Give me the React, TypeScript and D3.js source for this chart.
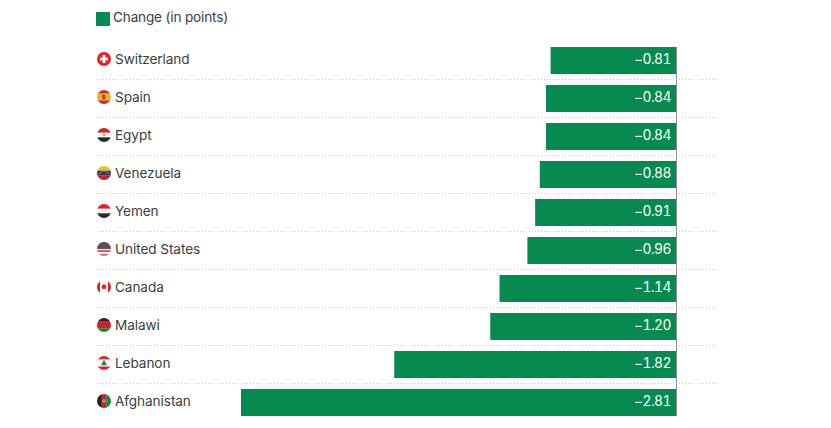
import React from "react";
import * as d3 from "d3";

const countries = ["Switzerland", "Spain", "Egypt", "Venezuela", "Yemen", "United States", "Canada", "Malawi", "Lebanon", "Afghanistan"];
const changes = [-0.81, -0.84, -0.84, -0.88, -0.91, -0.96, -1.14, -1.2, -1.82, -2.81];
const labels = ["−0.81", "−0.84", "−0.84", "−0.88", "−0.91", "−0.96", "−1.14", "−1.20", "−1.82", "−2.81"];
const legendLabel = "Change (in points)";

const GREEN = "#078a4f";
const FONT = "Inter, 'Noto Sans', sans-serif";

const x = d3.scaleLinear().domain([-2.81, 0]).range([241, 676]);
const y = d3.scaleBand<string>().domain(countries).range([41.5, 421.5]).paddingInner(11 / 38).paddingOuter(5.5 / 38);

function stripes(cols: string[], horizontal = true) {
  const n = cols.length;
  return cols.map((c, i) =>
    horizontal ? (
      <rect key={i} x={-7.5} y={-7 + (14 * i) / n} width={15} height={14 / n + 0.2} fill={c} />
    ) : (
      <rect key={i} x={-7 + (14 * i) / n} y={-7.5} width={14 / n + 0.2} height={15} fill={c} />
    )
  );
}

function Flag({ name }: { name: string }) {
  switch (name) {
    case "Switzerland":
      return (
        <>
          <rect x={-7.5} y={-7.5} width={15} height={15} fill="#e8202a" />
          <rect x={-4} y={-1.4} width={8} height={2.8} fill="#fff" />
          <rect x={-1.4} y={-4} width={2.8} height={8} fill="#fff" />
        </>
      );
    case "Spain":
      return (
        <>
          {stripes(["#c8302c", "#f0b429", "#f0b429", "#c8302c"])}
          <rect x={-2} y={-2.6} width={3.6} height={5} rx={1} fill="#a5512a" />
        </>
      );
    case "Egypt":
      return (
        <>
          {stripes(["#d8202c", "#f4f4f4", "#2a2a2a"])}
          <circle r={1.2} fill="#c9a13b" />
        </>
      );
    case "Venezuela":
      return (
        <>
          {stripes(["#eec125", "#3a3f5c", "#c62229"])}
          <path d="M-4.5 0.8A5 5 0 0 1 4.5 0.8" fill="none" stroke="#ddd" strokeWidth={0.9} strokeDasharray="1 1" />
        </>
      );
    case "Yemen":
      return <>{stripes(["#e2202c", "#f4f4f4", "#2a2a2a"])}</>;
    case "United States":
      return (
        <>
          {stripes(["#d9606a", "#f4f4f4", "#d9606a", "#f4f4f4", "#d9606a", "#f4f4f4", "#d9606a"])}
          <rect x={-7.5} y={-7.5} width={15} height={7.5} fill="#55555f" />
        </>
      );
    case "Canada":
      return (
        <>
          <rect x={-7.5} y={-7.5} width={15} height={15} fill="#fff" />
          <rect x={-7.5} y={-7.5} width={3.5} height={15} fill="#d9202c" />
          <rect x={4} y={-7.5} width={3.5} height={15} fill="#d9202c" />
          <path d="M0-3.4 1-1.8 2.4-2.2 1.9 0.4 3 0.6 1.6 1.8H0.3V3H-0.3V1.8H-1.6L-3 0.6-1.9 0.4-2.4-2.2-1-1.8Z" fill="#d9202c" />
        </>
      );
    case "Malawi":
      return <>{stripes(["#2b2326", "#c9232c", "#c9232c", "#1f8a3f"])}</>;
    case "Lebanon":
      return (
        <>
          {stripes(["#e5232c", "#fff", "#fff", "#e5232c"])}
          <path d="M0-3.6 3 2.2H-3Z" fill="#1f8a4f" />
        </>
      );
    case "Afghanistan":
      return (
        <>
          {stripes(["#23232a", "#c5222c", "#1a8a3a"], false)}
          <circle r={1.3} fill="none" stroke="#eee" strokeWidth={0.6} />
        </>
      );
    default:
      return null;
  }
}

export default function App() {
  return (
    <svg
      width={831}
      height={428}
      style={{ position: "absolute", left: 0, top: 0, background: "#fff", fontFamily: FONT }}
    >
      <defs>
        <clipPath id="flag-clip">
          <circle r={7} />
        </clipPath>
      </defs>
      <rect x={96} y={12} width={14} height={14} fill={GREEN} />
      <text x={113} y={22} fontSize={13.6} letterSpacing={-0.17} fill="#3a3d42">{legendLabel}</text>

      {countries.slice(0, -1).map((c) => (
        <line
          key={c}
          x1={97}
          x2={716}
          y1={Math.floor((y(c) as number) + y.bandwidth() + 5.5) + 0.5}
          y2={Math.floor((y(c) as number) + y.bandwidth() + 5.5) + 0.5}
          stroke="#c9c9c9"
          strokeWidth={1}
          strokeDasharray="1 2"
        />
      ))}

      {countries.map((c, i) => {
        const top = y(c) as number;
        const cy = top + y.bandwidth() / 2;
        return (
          <g key={c}>
            <rect x={x(changes[i])} y={top} width={x(0) - x(changes[i])} height={y.bandwidth()} fill={GREEN} />
            <g transform={`translate(104,${cy - 1.5})`} clipPath="url(#flag-clip)">
              <Flag name={c} />
            </g>
            <text x={115} y={cy + 3.5} fontSize={13.6} letterSpacing={-0.08} fill="#3a3d42">{c}</text>
            <text x={671} y={cy + 3.5} fontSize={13.8} letterSpacing={-0.5} fill="#fff" textAnchor="end" style={{ fontVariantNumeric: "tabular-nums" }}>{labels[i]}</text>
          </g>
        );
      })}

      <line x1={x(0) + 0.5} x2={x(0) + 0.5} y1={47} y2={416} stroke="#8a8f8c" strokeWidth={1} />
    </svg>
  );
}
